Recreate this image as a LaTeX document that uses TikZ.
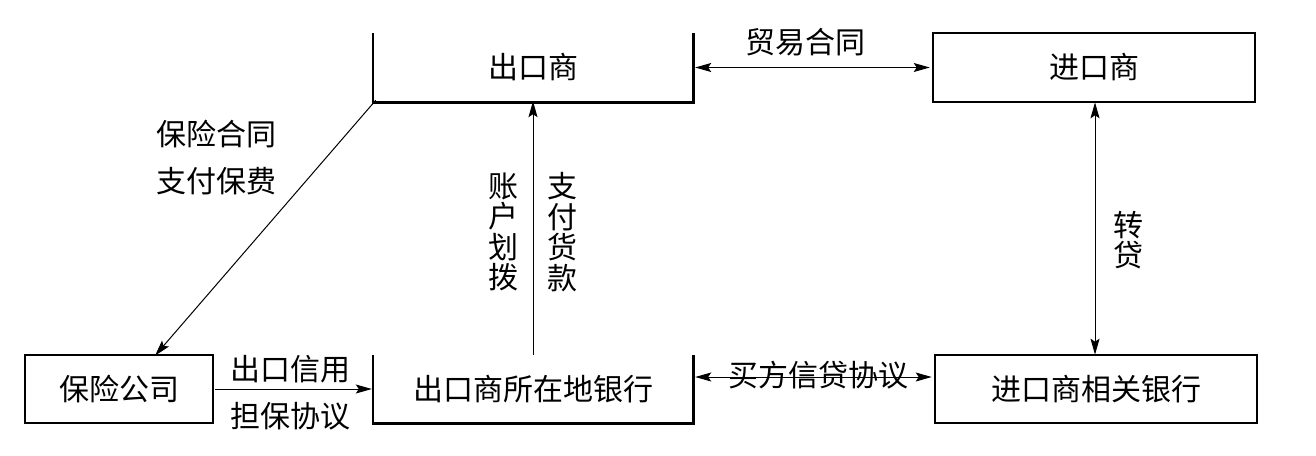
\documentclass[tikz,border=0pt]{standalone}
\usepackage{fontspec}
\setmainfont{Noto Sans CJK SC}
\usetikzlibrary{arrows.meta}
\begin{document}
\begin{tikzpicture}[x=1pt,y=-1pt,
  lbl/.style={inner sep=0pt,font=\fontsize{30}{30.5}\selectfont,align=center},
  fullbox/.style={draw,line width=2.6pt,inner sep=0pt,font=\fontsize{30}{31}\selectfont},
  openbox/.style={inner sep=0pt,font=\fontsize{30}{31}\selectfont},
  conn/.style={line width=1pt},
  arr/.style={conn,-{Stealth[length=16pt,width=9pt,inset=3pt]}},
  dbl/.style={conn,{Stealth[length=16pt,width=9pt,inset=3pt]}-{Stealth[length=16pt,width=9pt,inset=3pt]}}]
\useasboundingbox (0,0) rectangle (1316,455);
% boxes
\node[openbox,minimum width=320pt,minimum height=69pt] (exp) at (533,67.5) {出口商};
\draw[line width=2.6pt] (exp.north west) -- (exp.south west) -- (exp.south east) -- (exp.north east);
\node[fullbox,minimum width=322pt,minimum height=69pt] (imp) at (1094,67.5) {进口商};
\node[fullbox,minimum width=188pt,minimum height=68pt] (ins) at (119,389) {保险公司};
\node[openbox,minimum width=320pt,minimum height=68pt] (bank) at (533,389) {出口商所在地银行};
\draw[line width=2.6pt] (bank.north west) -- (bank.south west) -- (bank.south east) -- (bank.north east);
\node[fullbox,minimum width=322pt,minimum height=68pt] (ibank) at (1096,389) {进口商相关银行};
% connectors
\draw[dbl] ([xshift=2pt]exp.east) -- ([xshift=-2pt]imp.west);
\node[lbl] (l1) at (805,42) {贸易合同};
\draw[dbl] ([xshift=1pt,yshift=1pt]imp.south) -- ([xshift=1pt,yshift=-1pt]imp.south |- ibank.north);
\node[lbl] (l2) at (1128,240) {转\\贷};
\draw[dbl] ([xshift=2pt,yshift=12pt]bank.east) -- ([xshift=-2pt,yshift=12pt]ibank.west);
\node[lbl] (l3) at (818,375) {买方信贷协议};
\draw[arr] ([xshift=1pt]ins.east) -- ([xshift=-1pt]bank.west);
\node[lbl] (l4) at (290,369) {出口信用};
\node[lbl] (l5) at (290,416) {担保协议};
\draw[arr] (bank.north) -- ([yshift=1pt]exp.south);
\node[lbl] (l6) at (503,232) {账\\户\\划\\拨};
\node[lbl] (l7) at (562,232) {支\\付\\货\\款};
\coordinate (instip) at ([xshift=36pt,yshift=-2pt]ins.north);
\draw[arr] ([xshift=3pt,yshift=2pt]exp.south west) -- (instip);
\node[lbl] (l8) at (216,134) {保险合同};
\node[lbl] (l9) at (216,181) {支付保费};
\end{tikzpicture}
\end{document}
